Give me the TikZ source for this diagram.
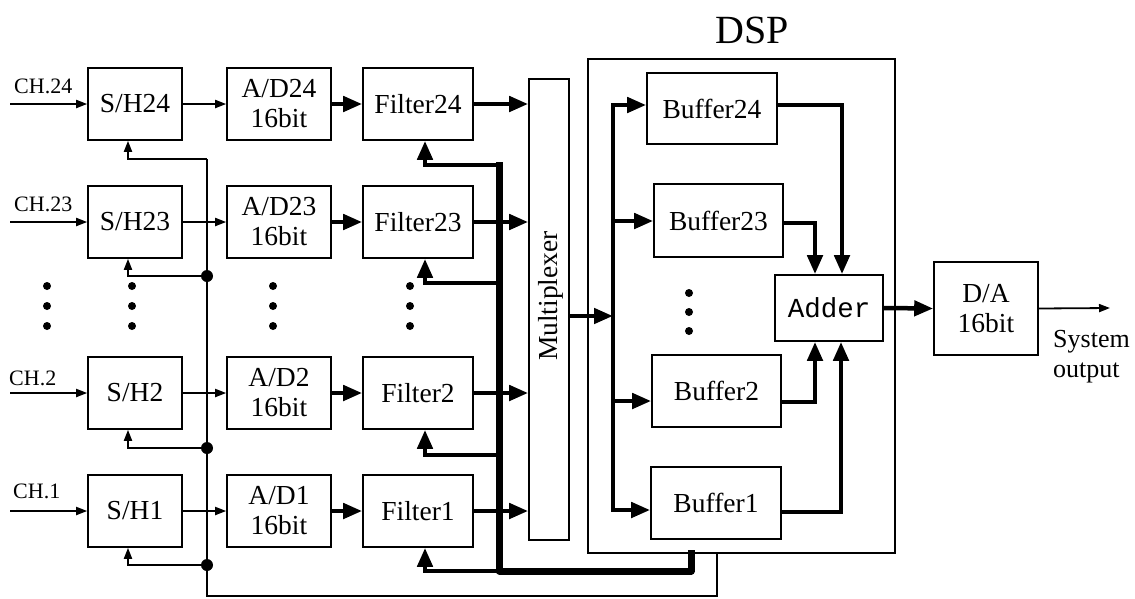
\documentclass[tikz,border=0pt]{standalone}
\usepackage{fontspec}
\setmainfont{Liberation Serif}
\setmonofont{Liberation Mono}
\usetikzlibrary{arrows.meta}
\begin{document}
\begin{tikzpicture}[x=1pt,y=-1pt,
  box/.style={draw,line width=1.6pt,inner sep=0pt,align=center,font=\fontsize{27.5}{30}\selectfont},
  thinarrow/.style={line width=1.8pt,-{Triangle[length=11pt,width=8pt]}},
  thickarrow/.style={line width=4.5pt,-{Triangle[length=19pt,width=15pt]}},
  plainline/.style={line width=1.8pt},
  busline/.style={line width=7pt,line cap=rect},
  jdot/.style={circle,fill,inner sep=0pt,minimum size=12pt},
  edot/.style={circle,fill,inner sep=0pt,minimum size=8pt},
  lbl/.style={font=\fontsize{22}{24}\selectfont,anchor=west,inner sep=0pt}]
\useasboundingbox (0,0) rectangle (1135,598);

% ---- S/H, A/D, Filter rows
\foreach \n/\y in {24/104,23/222,2/393,1/511}{
  \node[box,minimum width=94pt,minimum height=72pt] (sh\n) at (135,\y) {S/H\n};
  \node[box,minimum width=104pt,minimum height=72pt] (ad\n) at (279,\y) {A/D\n\\16bit};
  \node[box,minimum width=110pt,minimum height=72pt] (f\n) at (418,\y) {Filter\n};
  \coordinate (in\n) at (10,\y);
}
\node[lbl] (ch24) at (14,86) {CH.24};
\node[lbl] (ch23) at (14,204) {CH.23};
\node[lbl] (ch2) at (9,378) {CH.2};
\node[lbl] (ch1) at (13,491) {CH.1};

% ---- Multiplexer
\node[draw,line width=1.6pt,minimum width=40pt,minimum height=461pt,inner sep=0pt] (mux) at (549,309.5) {};
\node[rotate=90,font=\fontsize{27.5}{30}\selectfont,inner sep=0pt] (muxlabel) at (551,296) {Multiplexer};

% ---- DSP
\node[draw,line width=1.6pt,minimum width=307pt,minimum height=494pt,inner sep=0pt] (dsp) at (741.5,306) {};
\node[font=\fontsize{40}{44}\selectfont,inner sep=0pt] (dsplabel) at (752,30) {DSP};
\node[box,minimum width=130pt,minimum height=71pt] (b24) at (712,108.5) {Buffer24};
\node[box,minimum width=129pt,minimum height=73pt] (b23) at (718.5,220.5) {Buffer23};
\node[box,minimum width=129pt,minimum height=72pt] (b2) at (716.5,391) {Buffer2};
\node[box,minimum width=130pt,minimum height=72pt] (b1) at (716,503) {Buffer1};
\node[box,minimum width=108pt,minimum height=66pt,font=\fontsize{27.5}{30}\ttfamily] (adder) at (829,308) {Adder};
\node[box,minimum width=104pt,minimum height=93pt] (da) at (986,308.5) {D/A\\16bit};
\node[font=\fontsize{26}{30}\selectfont,align=left,anchor=west,inner sep=0pt] (sysout) at (1053,357) {System\\output};

% ---- input / chain arrows
\foreach \n in {24,23,2,1}{
  \draw[thinarrow] (in\n) -- (sh\n.west);
  \draw[thinarrow] (sh\n.east) -- (ad\n.west);
  \draw[thickarrow] (ad\n.east) -- (f\n.west);
  \draw[thickarrow] (f\n.east) -- (f\n.east -| mux.west);
}

% ---- control line (S/H clock)
\coordinate (ctop) at (207,159);
\coordinate (cbot) at (207,596);
\coordinate (cr) at (717,596);
\draw[plainline] (ctop) -- (cbot) -- (cr) -- (cr |- dsp.south);
\draw[thinarrow] (ctop) -| ([xshift=-7pt]sh24.south);
\node[jdot] (j23) at (207,276) {};
\node[jdot] (j2) at (207,448) {};
\node[jdot] (j1) at (207,565) {};
\draw[thinarrow] (j23.center) -| ([xshift=-7pt]sh23.south);
\draw[thinarrow] (j2.center) -| ([xshift=-7pt]sh2.south);
\draw[thinarrow] (j1.center) -| ([xshift=-7pt]sh1.south);

% ---- filter coefficient bus
\coordinate (fbtop) at (499,165);
\coordinate (fb23) at (499,283);
\coordinate (fb2) at (499,455);
\coordinate (fbbot) at (499,571);
\coordinate (fbr) at (691,571);
\draw[busline,line join=round] (fbtop) -- (fbbot) -- (fbr) -- (fbr |- dsp.south);
\draw[thickarrow] (fbtop) -| ([xshift=7pt]f24.south);
\draw[thickarrow] (fb23) -| ([xshift=7pt]f23.south);
\draw[thickarrow] (fb2) -| ([xshift=7pt]f2.south);
\draw[thickarrow] (fbbot) -| ([xshift=7pt]f1.south);

% ---- DSP inner bus
\coordinate (dbtop) at (613,105);
\coordinate (db23) at (613,221);
\coordinate (dbmid) at (613,316);
\coordinate (db2) at (613,401);
\coordinate (dbbot) at (613,510);
\draw[line width=4.5pt,line cap=rect] (dbtop) -- (dbbot);
\draw[thickarrow] (mux.east |- dbmid) -- (dbmid);
\draw[thickarrow] (dbtop) -- (b24.west |- dbtop);
\draw[thickarrow] (db23) -- (b23.west |- db23);
\draw[thickarrow] (db2) -- (b2.west |- db2);
\draw[thickarrow] (dbbot) -- (b1.west |- dbbot);

% ---- buffers to adder
\coordinate (a24) at (842,105);
\coordinate (a23) at (815,223);
\coordinate (a2) at (815,402);
\coordinate (a1) at (841,512);
\draw[thickarrow] (b24.east |- a24) -- (a24) -- (a24 |- adder.north);
\draw[thickarrow] (b23.east |- a23) -- (a23) -- (a23 |- adder.north);
\draw[thickarrow] (b2.east |- a2) -- (a2) -- (a2 |- adder.south);
\draw[thickarrow] (b1.east |- a1) -- (a1) -- (a1 |- adder.south);

% ---- output
\draw[thickarrow] (adder.east) -- (da.west);
\coordinate (out) at (1110,308);
\draw[thinarrow] (da.east) -- (out);

% ---- ellipsis dots
\foreach \x/\c in {47/a,132/b,273/c,410/d}{
  \foreach \y/\m in {286/1,306/2,326/3}{
    \node[edot] (dot\c\m) at (\x,\y) {};
  }
}
\foreach \y/\m in {293/1,312/2,331/3}{
  \node[edot] (dote\m) at (689,\y) {};
}
\end{tikzpicture}
\end{document}
